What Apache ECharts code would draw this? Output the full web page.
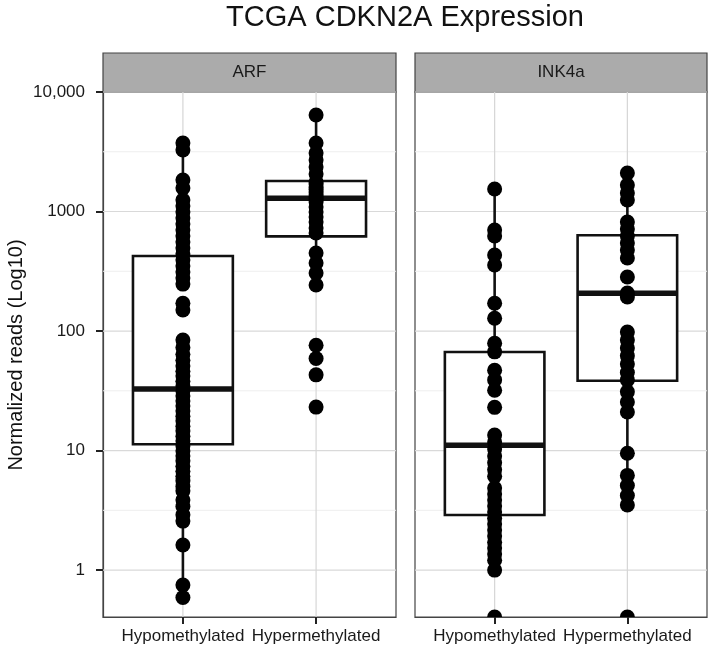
<!DOCTYPE html>
<html><head><meta charset="utf-8">
<script src="https://cdn.jsdelivr.net/npm/echarts@6/dist/echarts.min.js"></script>
<style>html,body{margin:0;padding:0;background:#fff}#c{width:709px;height:655px}</style>
</head><body><div id="c"></div><script>
// ---- data ----
const titleText = 'TCGA CDKN2A Expression';
const yAxisTitle = 'Normalized reads (Log10)';
const panels = ['ARF', 'INK4a'];
const groups = ['Hypomethylated', 'Hypermethylated'];
const yTickValues = [1, 10, 100, 1000, 10000];
const yTickLabels = ['1', '10', '100', '1000', '10,000'];
const yLow = 0.405, yHigh = 10000;

// points (normalized reads); 0 = zero reads (drawn at panel floor)
const arfHypo = [3740, 3270, 1835, 1573, 1248, 1112, 991, 883, 786, 700, 624, 556, 495, 441, 393, 350, 312, 278, 247, 171, 150, 84, 73, 64, 57, 51, 46, 42, 38, 34.7, 31.5, 28.6, 26, 23.6, 21.4, 19.4, 17.7, 16, 14.6, 13.2, 12, 10.9, 9.9, 9.0, 8.2, 7.4, 6.7, 6.1, 5.6, 5.0, 4.6, 3.85, 3.4, 2.9, 2.57, 1.62, 0.75, 0.59];
const arfHyper = [6420, 3740, 3090, 2700, 2357, 2060, 1766, 1700, 1603, 1530, 1456, 1380, 1322, 1260, 1200, 1091, 991, 900, 817, 728, 661, 450, 371, 306, 243, 76, 59, 43, 23.1];
const ink4aHypo = [1543, 700, 624, 433, 357, 171, 128, 79, 67, 47, 39, 32, 23, 13.5, 11.8, 10.3, 9.0, 7.9, 6.9, 6.1, 4.86, 4.33, 3.85, 3.43, 3.06, 2.72, 2.43, 2.16, 1.93, 1.71, 1.53, 1.36, 1.21, 1.0, 0];
const ink4aHyper = [2100, 1667, 1429, 1248, 817, 715, 624, 545, 476, 408, 283, 208, 193, 98, 84, 72, 62, 53, 45, 39, 31, 25.5, 21, 9.5, 6.2, 5.1, 4.2, 3.5, 0];

// box stats: [lower whisker, Q1, median, Q3, upper whisker]
const arfHypoBox = [0.59, 11.3, 32.7, 425, 3740];
const arfHyperBox = [243, 620, 1290, 1800, 6420];
const ink4aHypoBox = [1.0, 2.89, 11.1, 66.7, 1543];
const ink4aHyperBox = [3.5, 38.4, 207, 633, 2100];

// ---- build ----
const L = Math.log10;
const yMinL = L(yLow), yMaxL = L(yHigh);
const FONT = 'Liberation Sans, Arial, sans-serif';
const DOT = 15;
const gridRects = [
  {left: 103, top: 92, width: 293, height: 525},
  {left: 415, top: 92, width: 292, height: 525}
];
const panelPoints = [[arfHypo, arfHyper], [ink4aHypo, ink4aHyper]];
const panelBoxes = [[arfHypoBox, arfHyperBox], [ink4aHypoBox, ink4aHyperBox]];
const majorL = yTickValues.map(L);
const minorL = yTickValues.slice(0, -1).map((v, i) => L(Math.sqrt(v * yTickValues[i + 1])));

function tickLabel(v) {
  let best = 0;
  majorL.forEach((m, i) => { if (Math.abs(m - v) < Math.abs(majorL[best] - v)) best = i; });
  return yTickLabels[best];
}

function renderGridLines(params, api) {
  const cs = params.coordSys;
  const kind = api.value(0), v = api.value(1);
  if (kind === 2) {
    const x = api.coord([v, yMinL])[0];
    return {type: 'line', shape: {x1: x, y1: cs.y, x2: x, y2: cs.y + cs.height},
      style: {stroke: '#d6d6d6', lineWidth: 1.2}, silent: true};
  }
  const y = api.coord([1, v])[1];
  return {type: 'line', shape: {x1: cs.x, y1: y, x2: cs.x + cs.width, y2: y},
    style: {stroke: kind === 0 ? '#d9d9d9' : '#eeeeee', lineWidth: kind === 0 ? 1.2 : 1}, silent: true};
}

function renderBox(params, api) {
  const x = api.value(0);
  const lo = api.value(1), q1 = api.value(2), med = api.value(3), q3 = api.value(4), hi = api.value(5);
  const hw = 0.375;
  const pLo = api.coord([x, lo]), pQ1 = api.coord([x, q1]), pMed = api.coord([x, med]);
  const pQ3 = api.coord([x, q3]), pHi = api.coord([x, hi]);
  const pA = api.coord([x - hw, q3]), pB = api.coord([x + hw, q1]);
  return {type: 'group', children: [
    {type: 'line', shape: {x1: pLo[0], y1: pLo[1], x2: pQ1[0], y2: pQ1[1]}, style: {stroke: '#111', lineWidth: 2.6}},
    {type: 'line', shape: {x1: pQ3[0], y1: pQ3[1], x2: pHi[0], y2: pHi[1]}, style: {stroke: '#111', lineWidth: 2.6}},
    {type: 'rect', shape: {x: pA[0], y: pA[1], width: pB[0] - pA[0], height: pB[1] - pA[1]},
      style: {fill: '#fff', stroke: '#111', lineWidth: 2.6}},
    {type: 'line', shape: {x1: pA[0], y1: pMed[1], x2: pB[0], y2: pMed[1]}, style: {stroke: '#111', lineWidth: 5.5}}
  ]};
}

function renderFloorDot(params, api) {
  const p = api.coord([api.value(0), yMinL]);
  return {type: 'sector', shape: {cx: p[0], cy: p[1], r0: 0, r: DOT / 2, startAngle: Math.PI, endAngle: 2 * Math.PI, clockwise: true},
    style: {fill: '#000'}};
}

const grids = [], xAxes = [], yAxes = [], series = [], graphics = [];
panels.forEach((name, pi) => {
  const g = gridRects[pi];
  grids.push(Object.assign({show: true, borderColor: '#444', borderWidth: 1.2, backgroundColor: '#fff'}, g));
  xAxes.push({
    type: 'value', gridIndex: pi, min: 0.4, max: 2.6, position: 'bottom',
    axisLine: {show: true, onZero: false, lineStyle: {color: '#444', width: 1.2}}, splitLine: {show: false},
    axisTick: {show: true, customValues: [1, 2], length: 7, lineStyle: {color: '#222', width: 2}},
    axisLabel: {customValues: [1, 2], formatter: v => groups[Math.round(v) - 1], margin: 11,
      fontFamily: FONT, fontSize: 17, color: '#1a1a1a'}
  });
  yAxes.push({
    type: 'value', gridIndex: pi, min: yMinL, max: yMaxL,
    axisLine: {show: pi === 0, onZero: false, lineStyle: {color: '#444', width: 1.2}}, splitLine: {show: false},
    axisTick: {show: pi === 0, customValues: majorL, length: 7, lineStyle: {color: '#222', width: 2}},
    axisLabel: {show: pi === 0, customValues: majorL, formatter: tickLabel, margin: 18,
      fontFamily: FONT, fontSize: 17, color: '#1a1a1a'}
  });
  const lineData = majorL.map(v => [0, v]).concat(minorL.map(v => [1, v])).concat([[2, 1], [2, 2]]);
  series.push({type: 'custom', xAxisIndex: pi, yAxisIndex: pi, renderItem: renderGridLines, data: lineData, silent: true, z: 1});
  const boxData = panelBoxes[pi].map((b, gi) => [gi + 1].concat(b.map(L)));
  series.push({type: 'custom', xAxisIndex: pi, yAxisIndex: pi, renderItem: renderBox, data: boxData, silent: true, z: 2});
  const pts = [], floor = [];
  panelPoints[pi].forEach((arr, gi) => arr.forEach(v => {
    if (v > 0) pts.push([gi + 1, L(v)]); else floor.push([gi + 1, yMinL]);
  }));
  series.push({type: 'scatter', xAxisIndex: pi, yAxisIndex: pi, data: pts, symbolSize: DOT,
    itemStyle: {color: '#000', opacity: 1}, silent: true, z: 3});
  series.push({type: 'custom', xAxisIndex: pi, yAxisIndex: pi, renderItem: renderFloorDot, data: floor, silent: true, z: 3});
  graphics.push({type: 'rect', shape: {x: g.left, y: 53, width: g.width, height: 39},
    style: {fill: '#ababab', stroke: '#444', lineWidth: 1.2}});
  graphics.push({type: 'text', x: g.left + g.width / 2, y: 72.5,
    style: {text: name, align: 'center', verticalAlign: 'middle', font: '17px ' + FONT, fill: '#1a1a1a'}});
});
graphics.push({type: 'text', x: 405, y: 18,
  style: {text: titleText, align: 'center', verticalAlign: 'middle', font: '29px ' + FONT, fill: '#111'}});
graphics.push({type: 'text', x: 16, y: 355, rotation: Math.PI / 2,
  style: {text: yAxisTitle, align: 'center', verticalAlign: 'middle', font: '20px ' + FONT, fill: '#111'}});

const chart = echarts.init(document.getElementById('c'), null, {renderer: 'canvas'});
chart.setOption({
  animation: false, backgroundColor: '#fff',
  grid: grids, xAxis: xAxes, yAxis: yAxes, series: series, graphic: graphics
});
</script></body></html>
